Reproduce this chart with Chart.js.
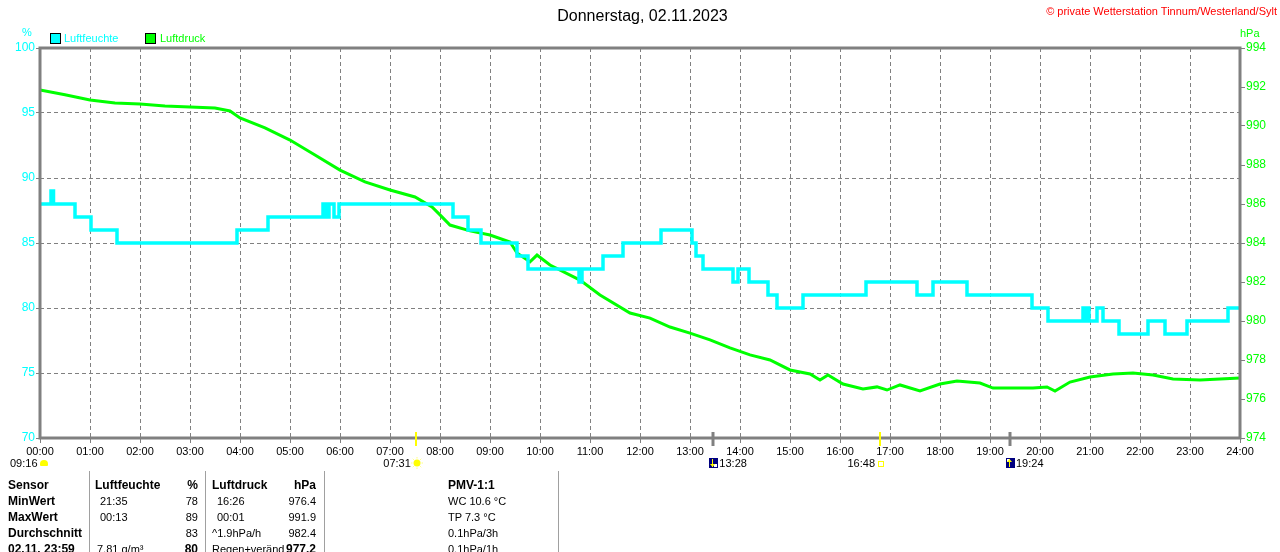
<!DOCTYPE html>
<html lang="de">
  <head>
    <meta charset="UTF-8" />
    <title>Donnerstag, 02.11.2023</title>
    <script src="https://cdn.jsdelivr.net/npm/chart.js"></script>
    <style>
      body {
        margin: 0;
        width: 1280px;
        height: 552px;
        overflow: hidden;
        position: relative;
        background: #ffffff;
        font-family: "Liberation Sans", Arial, sans-serif;
      }

      #chart {
        position: absolute;
        left: 0;
        top: 0;
      }

      .t {
        position: absolute;
        white-space: nowrap;
        font-size: 11px;
        line-height: 14px;
        color: #000;
      }

      .b {
        font-weight: bold;
        font-size: 12px;
      }

      .vline {
        position: absolute;
        top: 471px;
        height: 90px;
        width: 1px;
        background: #a0a0a0;
      }

      .box {
        position: absolute;
        width: 9px;
        height: 9px;
        border: 1px solid #000;
      }
    </style>
  </head>
  <body>
    <canvas id="chart" width="1280" height="552"></canvas>

    <div class="t" style="left: 0; width: 1285px; top: 7px; text-align: center; font-size: 16px; line-height: 18px">
      Donnerstag, 02.11.2023
    </div>
    <div class="t" style="right: 3px; top: 4px; color: #ff0000">
      © private Wetterstation Tinnum/Westerland/Sylt
    </div>

    <div class="t" style="left: 22px; top: 25px; color: #00ffff">%</div>
    <div class="t" style="left: 1240px; top: 26px; color: #00ff00">hPa</div>

    <div class="box" style="left: 50px; top: 33px; background: #00ffff"></div>
    <div class="t" style="left: 64px; top: 31px; color: #00ffff">Luftfeuchte</div>
    <div class="box" style="left: 145px; top: 33px; background: #00ff00"></div>
    <div class="t" style="left: 160px; top: 31px; color: #00ff00">Luftdruck</div>

    <div class="t" style="left: 10px; top: 456px">09:16</div>
    <div style="position: absolute; left: 40px; top: 460px; width: 8px; height: 6px; background: #ffff00; border-radius: 4px 4px 1px 1px"></div>

    <div id="events"></div>

    <div class="vline" style="left: 89px"></div>
    <div class="vline" style="left: 205px"></div>
    <div class="vline" style="left: 324px"></div>
    <div class="vline" style="left: 558px"></div>

    <div id="table"></div>

    <script>
      const hours = [0, 1, 2, 3, 4, 5, 6, 7, 8, 9, 10, 11, 12, 13, 14, 15, 16, 17, 18, 19, 20, 21, 22, 23, 24];

      const humTimes = [
        0, 0.22, 0.27, 0.7, 1.02, 1.54, 3.94, 4.56, 5.66, 5.72, 5.78, 5.88, 5.98, 8.26, 8.56, 8.82, 9.54,
        9.76, 10.78, 10.84, 11.26, 11.66, 12.42, 13.04, 13.12, 13.26, 13.86, 13.96, 14.18, 14.56, 14.74,
        15.26, 16.52, 17.54, 17.86, 18.54, 19.84, 20.16, 20.86, 20.9, 20.94, 20.98, 21.14, 21.26, 21.58,
        22.16, 22.5, 22.94, 23.76, 24,
      ];
      const humValues = [
        88, 89, 88, 87, 86, 85, 86, 87, 88, 87, 88, 87, 88, 87, 86, 85, 84,
        83, 82, 83, 84, 85, 86, 85, 84, 83, 82, 83, 82, 81, 80,
        81, 82, 81, 82, 81, 80, 79, 80, 79, 80, 79, 80, 79, 78,
        79, 78, 79, 80, 80,
      ];

      const presTimes = [
        0, 0.5, 1, 1.5, 2, 2.5, 3, 3.5, 3.8, 4, 4.5, 5, 5.5, 6, 6.5, 7, 7.5, 7.84, 8, 8.2, 8.6, 9,
        9.4, 9.54, 9.8, 9.94, 10.2, 10.8, 11.2, 11.8, 12.2, 12.6, 13, 13.4, 13.8, 14.2, 14.6, 15,
        15.4, 15.6, 15.76, 16.06, 16.46, 16.74, 16.94, 17.2, 17.6, 18, 18.34, 18.8, 19.06, 19.86,
        20.14, 20.3, 20.6, 21, 21.46, 21.86, 22.26, 22.66, 23.2, 23.6, 24,
      ];
      const presValues = [
        991.85, 991.6, 991.33, 991.18, 991.13, 991.03, 990.97, 990.92, 990.77, 990.41, 989.9, 989.28,
        988.51, 987.74, 987.13, 986.72, 986.36, 985.85, 985.44, 984.92, 984.62, 984.41,
        984.05, 983.49, 983.03, 983.38, 982.87, 982.1, 981.33, 980.41, 980.15, 979.69, 979.38,
        979.03, 978.62, 978.26, 978.0, 977.49,
        977.28, 976.97, 977.23, 976.77, 976.51, 976.62, 976.46, 976.72, 976.41, 976.77, 976.92,
        976.82, 976.56, 976.56,
        976.62, 976.41, 976.87, 977.13, 977.28, 977.33, 977.23, 977.03, 976.97, 977.03, 977.08,
      ];

      const humTicks = [70, 75, 80, 85, 90, 95, 100];
      const presTicks = [974, 976, 978, 980, 982, 984, 986, 988, 990, 992, 994];

      // Sonne / Mond Auf- und Untergang
      const eventNames = ["sunrise", "moonset", "sunset", "moonrise"];
      const eventLabels = ["07:31", "13:28", "16:48", "19:24"];
      const eventTimes = [7.517, 13.467, 16.8, 19.4];

      const tableRows = [
        [["Sensor", 8, "l", 1], ["Luftfeuchte", 95, "l", 1], ["%", 198, "r", 1], ["Luftdruck", 212, "l", 1], ["hPa", 316, "r", 1], ["PMV-1:1", 448, "l", 1]],
        [["MinWert", 8, "l", 1], ["21:35", 100, "l", 0], ["78", 198, "r", 0], ["16:26", 217, "l", 0], ["976.4", 316, "r", 0], ["WC 10.6 °C", 448, "l", 0]],
        [["MaxWert", 8, "l", 1], ["00:13", 100, "l", 0], ["89", 198, "r", 0], ["00:01", 217, "l", 0], ["991.9", 316, "r", 0], ["TP 7.3 °C", 448, "l", 0]],
        [["Durchschnitt", 8, "l", 1], ["83", 198, "r", 0], ["^1.9hPa/h", 212, "l", 0], ["982.4", 316, "r", 0], ["0.1hPa/3h", 448, "l", 0]],
        [["02.11.  23:59", 8, "l", 1], ["7.81 g/m³", 97, "l", 0], ["80", 198, "r", 1], ["Regen+veränd", 212, "l", 0], ["977.2", 316, "r", 1], ["0.1hPa/1h", 448, "l", 0]],
      ];

      const fontFamily = '"Liberation Sans", Arial, sans-serif';

      const framePlugin = {
        id: "frame",
        afterDatasetsDraw(chart) {
          const { ctx, chartArea } = chart;
          ctx.save();
          ctx.strokeStyle = "#808080";
          ctx.lineWidth = 3;
          ctx.strokeRect(chartArea.left, chartArea.top, chartArea.right - chartArea.left, chartArea.bottom - chartArea.top);
          ctx.restore();
        },
        afterDraw(chart) {
          const { ctx, chartArea } = chart;
          const xs = chart.scales.x;
          ctx.save();
          for (let i = 0; i < eventTimes.length; i++) {
            const px = Math.round(xs.getPixelForValue(eventTimes[i]));
            const isSun = eventNames[i].startsWith("sun");
            ctx.strokeStyle = isSun ? "#ffff00" : "#808080";
            ctx.lineWidth = isSun ? 2 : 3;
            ctx.beginPath();
            ctx.moveTo(px, chartArea.bottom - 6);
            ctx.lineTo(px, chartArea.bottom + 8);
            ctx.stroke();

            const cy = 463;
            if (eventNames[i] === "sunrise") {
              ctx.fillStyle = "#ffff00";
              ctx.beginPath();
              ctx.arc(px + 1, cy, 3.5, 0, Math.PI * 2);
              ctx.fill();
              ctx.strokeStyle = "#ffff80";
              ctx.lineWidth = 1;
              for (let a = 0; a < 8; a++) {
                const ang = (a * Math.PI) / 4;
                ctx.beginPath();
                ctx.moveTo(px + 1 + Math.cos(ang) * 4.5, cy + Math.sin(ang) * 4.5);
                ctx.lineTo(px + 1 + Math.cos(ang) * 6, cy + Math.sin(ang) * 6);
                ctx.stroke();
              }
            } else if (eventNames[i] === "sunset") {
              ctx.strokeStyle = "#ffff00";
              ctx.lineWidth = 1;
              ctx.strokeRect(px - 1.5, cy - 1.5, 5, 5);
            } else {
              const down = eventNames[i] === "moonset";
              ctx.fillStyle = "#000080";
              ctx.fillRect(px - 4, cy - 5, 9, 10);
              ctx.fillStyle = "#ffffff";
              ctx.fillRect(px + (down ? 1 : -3), cy + (down ? 1 : -4), 3, 3);
              ctx.strokeStyle = "#ffff00";
              ctx.fillStyle = "#ffff00";
              ctx.lineWidth = 1;
              const ax = px - 1;
              ctx.beginPath();
              ctx.moveTo(ax + 0.5, cy - 4);
              ctx.lineTo(ax + 0.5, cy + 4);
              ctx.stroke();
              ctx.beginPath();
              if (down) {
                ctx.moveTo(ax - 2, cy + 1);
                ctx.lineTo(ax + 3, cy + 1);
                ctx.lineTo(ax + 0.5, cy + 4);
              } else {
                ctx.moveTo(ax - 2, cy - 1);
                ctx.lineTo(ax + 3, cy - 1);
                ctx.lineTo(ax + 0.5, cy - 4);
              }
              ctx.fill();
            }
          }
          ctx.restore();
        },
      };

      const chart = new Chart(document.getElementById("chart"), {
        type: "line",
        data: {
          datasets: [
            {
              label: "Luftfeuchte",
              data: humTimes.map((h, i) => ({ x: h, y: humValues[i] })),
              yAxisID: "y",
              borderColor: "#00ffff",
              borderWidth: 3.5,
              stepped: true,
              pointRadius: 0,
            },
            {
              label: "Luftdruck",
              data: presTimes.map((h, i) => ({ x: h, y: presValues[i] })),
              yAxisID: "y1",
              borderColor: "#00ff00",
              borderWidth: 3,
              tension: 0,
              pointRadius: 0,
            },
          ],
        },
        options: {
          responsive: false,
          devicePixelRatio: 1,
          animation: false,
          layout: { padding: { top: 48, left: 0, right: 0, bottom: 0 } },
          plugins: {
            legend: { display: false },
            tooltip: { enabled: false },
          },
          scales: {
            x: {
              type: "linear",
              min: 0,
              max: 24,
              afterFit: (s) => {
                s.height = 114;
              },
              afterBuildTicks: (s) => {
                s.ticks = hours.map((v) => ({ value: v }));
              },
              ticks: {
                autoSkip: false,
                maxRotation: 0,
                padding: 2,
                color: "#000000",
                font: { family: fontFamily, size: 11 },
                callback: (v) => String(v).padStart(2, "0") + ":00",
              },
              grid: { color: "#808080", lineWidth: 1, tickLength: 5, tickColor: "#808080" },
              border: { display: false, dash: [4, 3] },
            },
            y: {
              position: "left",
              min: 70,
              max: 100,
              afterFit: (s) => {
                s.width = 40;
              },
              afterBuildTicks: (s) => {
                s.ticks = humTicks.map((v) => ({ value: v }));
              },
              ticks: {
                padding: 1,
                color: "#00ffff",
                font: { family: fontFamily, size: 12 },
              },
              grid: { color: "#808080", lineWidth: 1, tickLength: 4, tickColor: "#808080" },
              border: { display: false, dash: [4, 3] },
            },
            y1: {
              position: "right",
              min: 974,
              max: 994,
              afterFit: (s) => {
                s.width = 40;
              },
              afterBuildTicks: (s) => {
                s.ticks = presTicks.map((v) => ({ value: v }));
              },
              ticks: {
                padding: 1,
                color: "#00ff00",
                font: { family: fontFamily, size: 12 },
              },
              grid: { drawOnChartArea: false, color: "#808080", tickLength: 5, tickColor: "#808080" },
              border: { display: false },
            },
          },
        },
        plugins: [framePlugin],
      });

      const evDiv = document.getElementById("events");
      eventTimes.forEach((h, i) => {
        const px = chart.scales.x.getPixelForValue(h);
        const el = document.createElement("div");
        el.className = "t";
        el.textContent = eventLabels[i];
        el.style.top = "456px";
        if (eventNames[i].startsWith("sun")) {
          el.style.right = 1280 - (px - 5) + "px";
        } else {
          el.style.left = px + 6 + "px";
        }
        evDiv.appendChild(el);
      });

      const tDiv = document.getElementById("table");
      tableRows.forEach((row, r) => {
        row.forEach(([text, x, align, bold]) => {
          const el = document.createElement("div");
          el.className = "t" + (bold ? " b" : "");
          el.textContent = text;
          el.style.top = 478 + r * 16 + "px";
          if (align === "r") {
            el.style.right = 1280 - x + "px";
          } else {
            el.style.left = x + "px";
          }
          tDiv.appendChild(el);
        });
      });
    </script>
  </body>
</html>
